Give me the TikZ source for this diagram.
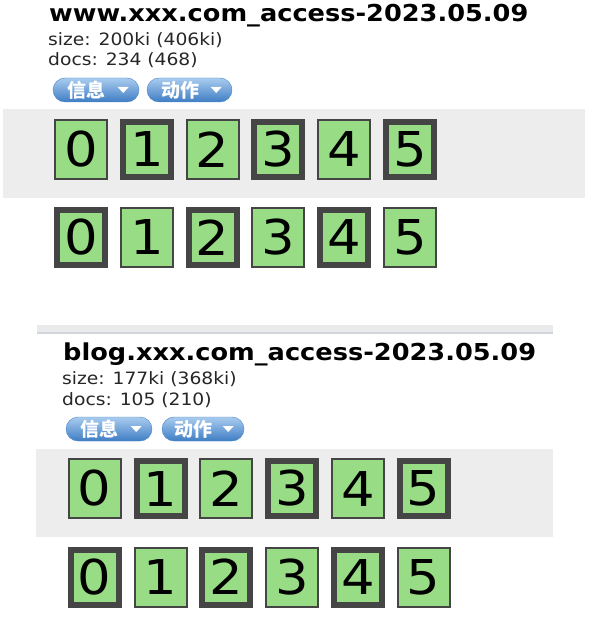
\documentclass[tikz,border=0pt]{standalone}
\usepackage{fontspec}
\setmainfont{DejaVu Sans}[FakeStretch=1.1]
\newfontfamily\cjk{Noto Sans CJK SC}
\usetikzlibrary{shapes,calc}
\definecolor{shardgreen}{HTML}{98DC85}
\definecolor{sharddark}{HTML}{454545}
\definecolor{bandgray}{HTML}{EDEDED}
\definecolor{bargray}{HTML}{E8EAEC}
\definecolor{barline}{HTML}{D2D6DA}
\definecolor{btntop}{HTML}{A9CCEF}
\definecolor{btnbottom}{HTML}{3F7DC4}
\definecolor{btnedge}{HTML}{4D86C6}

\begin{document}
\begin{tikzpicture}[x=1pt,y=-1pt]
    \tikzset{shard/.style={draw=sharddark,fill=shardgreen,line width=2pt,minimum width=52pt,minimum height=59pt,inner sep=0pt,font=\fontsize{48}{48}\selectfont},
        primary/.style={shard,line width=6pt,minimum width=48pt,minimum height=55pt},
        pick/.code={\ifodd#1\relax\pgfkeysalso{primary}\else\pgfkeysalso{shard}\fi},
        unpick/.code={\ifodd#1\relax\pgfkeysalso{shard}\else\pgfkeysalso{primary}\fi},
        title/.style={anchor=base west,inner sep=0pt,font=\bfseries\fontsize{23.3}{24}\selectfont},
        stat/.style={anchor=base west,inner sep=0pt,font=\fontsize{17}{20}\selectfont,text=black!85},
        btn/.style={draw=btnedge,top color=btntop,bottom color=btnbottom,rounded corners=12pt,minimum height=24pt,inner sep=0pt,text=white,font=\cjk\bfseries\fontsize{19}{19}\selectfont}};
    \useasboundingbox (0,0) rectangle (598,617);
    % first index
    \node[title] (T1) at (49,22) {www.xxx.com\_access-2023.05.09};
    \node[stat] (S1) at (48,46) {size: 200ki (406ki)};
    \node[stat] (D1) at (48,66) {docs: 234 (468)};
    \node[btn,minimum width=86pt] (I1) at (96,90) {信息\hspace*{19pt}};
    \node[btn,minimum width=85pt] (J1) at (189.5,90) {动作\hspace*{19pt}};
    \fill[bandgray] (3,109) rectangle (585,198);
    % second index
    \fill[bargray] (37,325) rectangle (553,332);
    \fill[barline] (37,332) rectangle (553,334);
    \node[title] (T2) at (63,360) {blog.xxx.com\_access-2023.05.09};
    \node[stat] (S2) at (62,384) {size: 177ki (368ki)};
    \node[stat] (D2) at (62,405) {docs: 105 (210)};
    \node[btn,minimum width=86pt] (I2) at (109,429) {信息\hspace*{19pt}};
    \node[btn,minimum width=82pt] (J2) at (203,429) {动作\hspace*{19pt}};
    \fill[bandgray] (36,449) rectangle (553,537);
    \foreach \b in {I1,J1,I2,J2}
        \fill[white] ($(\b.east)+(-21.5,-3)$) -- ++(11,0) -- ++(-5.5,6) -- cycle;
    \foreach \i in {0,...,5}{
        \node[pick=\i] (A\i) at (81.3+65.7*\i,149.5) {\i};
        \node[unpick=\i] (B\i) at (81.3+65.7*\i,237.5) {\i};
        \node[pick=\i] (C\i) at (94.7+65.8*\i,488.5) {\i};
        \node[unpick=\i] (E\i) at (94.7+65.8*\i,577) {\i};
    }
\end{tikzpicture}
\end{document}
